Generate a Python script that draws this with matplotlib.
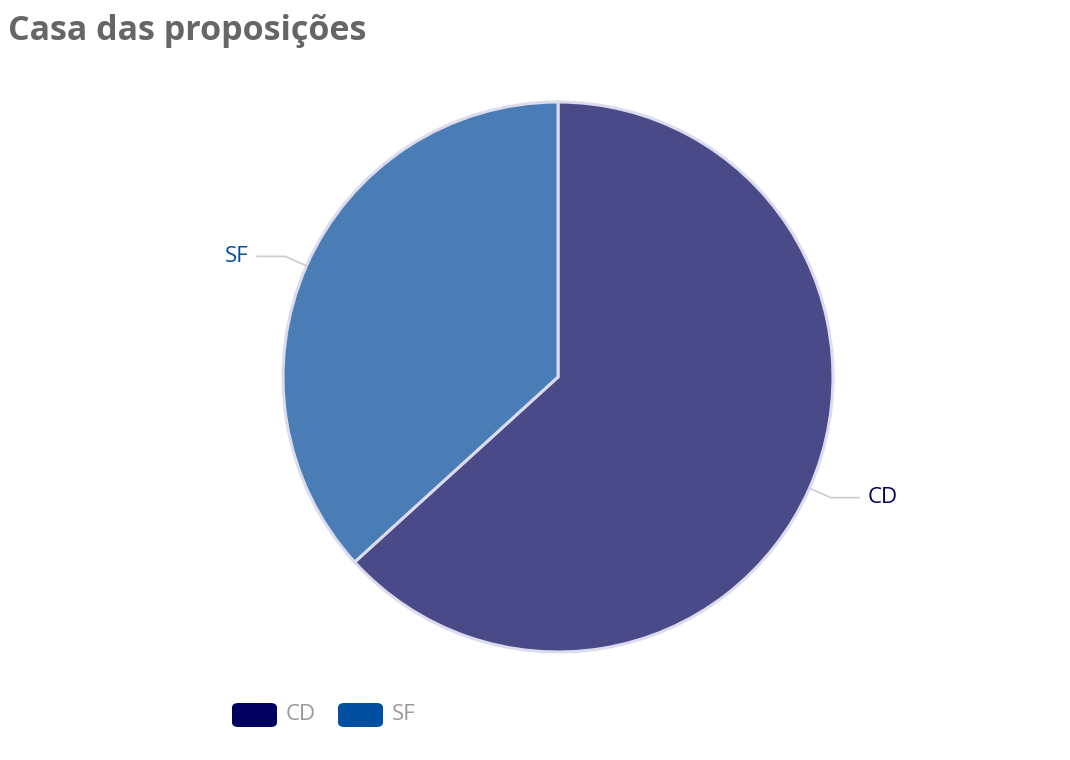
import matplotlib.pyplot as plt
from matplotlib.patches import FancyBboxPatch
import numpy as np

# data
categories = ["CD", "SF"]
values = [63.25, 36.75]
slice_colors = ["#4b4a88", "#4a7db5"]
legend_colors = ["#000060", "#004fa0"]

plt.rcParams["font.family"] = ["Open Sans", "DejaVu Sans"]

W, H = 1070, 760
fig = plt.figure(figsize=(W / 100, H / 100), dpi=100)

# pie axes placed in pixel coords: centre (558, 377), radius 275
cx, cy, r = 558, 377, 275
ax = fig.add_axes([(cx - r) / W, (H - cy - r) / H, 2 * r / W, 2 * r / H])

wedges, _ = ax.pie(
    values,
    colors=slice_colors,
    startangle=90,
    counterclock=False,
    radius=1,
    wedgeprops=dict(edgecolor="#dcdcee", linewidth=2.2),
)
ax.set_xlim(-1, 1)
ax.set_ylim(-1, 1)
ax.set_aspect("equal")
ax.axis("off")

# outside labels with leader lines
for w, name, col in zip(wedges, categories, legend_colors):
    mid = np.deg2rad((w.theta1 + w.theta2) / 2)
    x0, y0 = np.cos(mid), np.sin(mid)
    side = np.sign(x0)
    ex, ey = x0 * 1.085, y0 * 1.085
    hx = side * 1.095
    ax.plot([x0, ex, hx], [y0, ey, ey], color="#cccccc", lw=1.2, clip_on=False)
    ax.text(hx + side * 0.03, ey, name, color=col, fontsize=16,
            ha="left" if side > 0 else "right", va="center")

# title
fig.text(8 / W, 1 - 31 / H, "Casa das proposições", fontsize=24.5,
         fontweight="bold", color="#666666", ha="left", va="center")

# legend
lx = 232
for name, col in zip(categories, legend_colors):
    box = FancyBboxPatch((lx / W, 1 - 727 / H), 45 / W, 24 / H,
                         boxstyle="round,pad=0,rounding_size=0.006",
                         transform=fig.transFigure, facecolor=col,
                         edgecolor="none")
    fig.patches.append(box)
    fig.text((lx + 54) / W, 1 - 714 / H, name, fontsize=16, color="#999999",
             ha="left", va="center")
    lx += 106

fig.savefig("out.png", dpi=100)
